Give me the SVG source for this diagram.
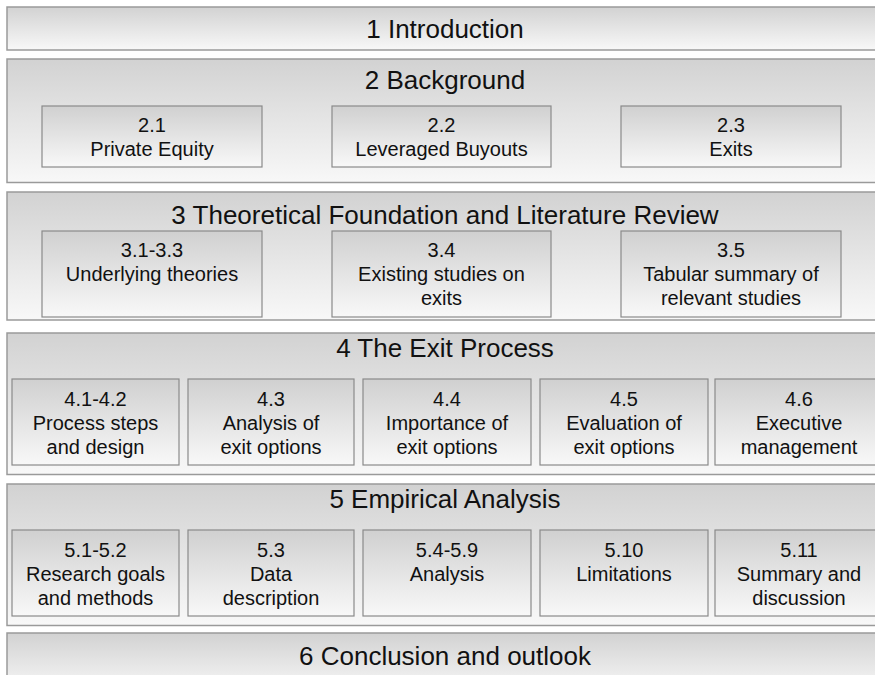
<svg xmlns="http://www.w3.org/2000/svg" width="875" height="675" viewBox="0 0 875 675">
<defs>
<linearGradient id="gs" x1="0" y1="0" x2="0" y2="1">
<stop offset="0" stop-color="#d2d2d2"/>
<stop offset="1" stop-color="#f8f8f8"/>
</linearGradient>
<linearGradient id="gb" x1="0" y1="0" x2="0" y2="1">
<stop offset="0" stop-color="#d0d0d0"/>
<stop offset="1" stop-color="#f8f8f8"/>
</linearGradient>
</defs>
<style>
.sec{fill:url(#gs);stroke:#9a9a9a;stroke-width:1.5}
.box{fill:url(#gb);stroke:#8a8a8a;stroke-width:1.2}
.sh{fill:none;stroke:#c8c8c8;stroke-width:1}
text{font-family:"Liberation Sans",Arial,sans-serif;fill:#111;text-anchor:middle}
.t{font-size:26px}
.s{font-size:20px}
</style>
<rect width="875" height="675" fill="#ffffff"/>
<g id="sec1"><rect class="sec" x="7" y="7" width="880" height="43"/><text class="t" x="445" y="38">1 Introduction</text></g>
<g id="sec2"><rect class="sec" x="7" y="59" width="880" height="123.5"/><text class="t" x="445" y="89">2 Background</text></g>
<g id="sec3"><rect class="sec" x="7" y="192" width="880" height="128"/><text class="t" x="445" y="224">3 Theoretical Foundation and Literature Review</text></g>
<g id="sec4"><rect class="sec" x="7" y="333" width="880" height="141.5"/><text class="t" x="445" y="357">4 The Exit Process</text></g>
<g id="sec5"><rect class="sec" x="7" y="484" width="880" height="141.5"/><text class="t" x="445" y="508">5 Empirical Analysis</text></g>
<g id="sec6"><rect class="sec" x="7" y="633" width="880" height="60"/><text class="t" x="445" y="665">6 Conclusion and outlook</text></g>

<g id="b21"><rect class="box" x="42" y="106" width="220" height="61"/><text class="s" x="152" y="132">2.1</text><text class="s" x="152" y="155.5">Private Equity</text></g>
<g id="b22"><rect class="box" x="332" y="106" width="219" height="61"/><text class="s" x="441.5" y="132">2.2</text><text class="s" x="441.5" y="155.5">Leveraged Buyouts</text></g>
<g id="b23"><rect class="box" x="621" y="106" width="220" height="61"/><text class="s" x="731" y="132">2.3</text><text class="s" x="731" y="155.5">Exits</text></g>

<g id="b31"><rect class="box" x="42" y="231" width="220" height="86"/><text class="s" x="152" y="257">3.1-3.3</text><text class="s" x="152" y="281">Underlying theories</text></g>
<g id="b34"><rect class="box" x="332" y="231" width="219" height="86"/><text class="s" x="441.5" y="257">3.4</text><text class="s" x="441.5" y="281">Existing studies on</text><text class="s" x="441.5" y="305">exits</text></g>
<g id="b35"><rect class="box" x="621" y="231" width="220" height="86"/><text class="s" x="731" y="257">3.5</text><text class="s" x="731" y="281">Tabular summary of</text><text class="s" x="731" y="305">relevant studies</text></g>

<g id="b41"><rect class="box" x="12" y="379" width="167" height="86"/><text class="s" x="95.5" y="406">4.1-4.2</text><text class="s" x="95.5" y="430">Process steps</text><text class="s" x="95.5" y="454">and design</text></g>
<g id="b43"><rect class="box" x="188" y="379" width="166" height="86"/><text class="s" x="271" y="406">4.3</text><text class="s" x="271" y="430">Analysis of</text><text class="s" x="271" y="454">exit options</text></g>
<g id="b44"><rect class="box" x="363" y="379" width="168" height="86"/><text class="s" x="447" y="406">4.4</text><text class="s" x="447" y="430">Importance of</text><text class="s" x="447" y="454">exit options</text></g>
<g id="b45"><rect class="box" x="540" y="379" width="168" height="86"/><text class="s" x="624" y="406">4.5</text><text class="s" x="624" y="430">Evaluation of</text><text class="s" x="624" y="454">exit options</text></g>
<g id="b46"><rect class="box" x="715" y="379" width="167" height="86"/><text class="s" x="799" y="406">4.6</text><text class="s" x="799" y="430">Executive</text><text class="s" x="799" y="454">management</text></g>

<g id="b51"><rect class="box" x="12" y="530" width="167" height="86"/><text class="s" x="95.5" y="557">5.1-5.2</text><text class="s" x="95.5" y="581">Research goals</text><text class="s" x="95.5" y="605">and methods</text></g>
<g id="b53"><rect class="box" x="188" y="530" width="166" height="86"/><text class="s" x="271" y="557">5.3</text><text class="s" x="271" y="581">Data</text><text class="s" x="271" y="605">description</text></g>
<g id="b54"><rect class="box" x="363" y="530" width="168" height="86"/><text class="s" x="447" y="557">5.4-5.9</text><text class="s" x="447" y="581">Analysis</text></g>
<g id="b510"><rect class="box" x="540" y="530" width="168" height="86"/><text class="s" x="624" y="557">5.10</text><text class="s" x="624" y="581">Limitations</text></g>
<g id="b511"><rect class="box" x="715" y="530" width="167" height="86"/><text class="s" x="799" y="557">5.11</text><text class="s" x="799" y="581">Summary and</text><text class="s" x="799" y="605">discussion</text></g>
<g id="connectors"/>
</svg>
